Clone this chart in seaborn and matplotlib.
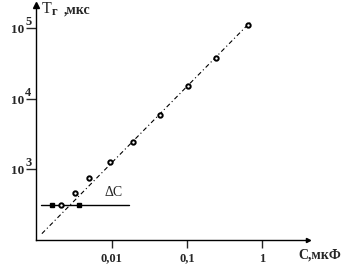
import numpy as np
import pandas as pd
import matplotlib
matplotlib.use("Agg")
from matplotlib import pyplot as plt
from matplotlib import ticker
import seaborn as sns

# measured points: capacitance (uF) vs generation period (us)
cap_uf = [0.0021, 0.0032, 0.0049, 0.0094, 0.019, 0.044, 0.103, 0.245, 0.65]
period_us = [318, 471, 745, 1255, 2420, 5840, 15000, 37400, 110000]

# dash-dot fit line end points
fit_cap = [0.00117, 0.69]
fit_period = [123, 121000]

# delta C bar
dc_cap = [0.00113, 0.0169]
dc_period = [318, 318]
dc_marks = [0.00158, 0.00363]

x_ticks = [0.01, 0.1, 1]
x_labels = ["0,01", "0,1", "1"]
y_ticks = [1e3, 1e4, 1e5]
y_labels = ["3", "4", "5"]

sns.set_style("white")
plt.rcParams["font.family"] = ["Liberation Serif", "DejaVu Serif"]

W, H = 355, 276
fig = plt.figure(figsize=(W / 100, H / 100), dpi=100)
ax = fig.add_axes([36 / W, 1 - 240 / H, (308 - 36) / W, (240 - 5) / H])

pts = pd.DataFrame({"C": cap_uf, "T": period_us})
fit = pd.DataFrame({"C": fit_cap, "T": fit_period})
dc = pd.DataFrame({"C": dc_cap, "T": dc_period})

ax.set_xscale("log")
ax.set_yscale("log")

sns.lineplot(data=fit, x="C", y="T", ax=ax, color="black", lw=0.8,
             linestyle=(0, (4, 2.5, 1, 2.5)))
sns.lineplot(data=dc, x="C", y="T", ax=ax, color="black", lw=1.0)
ax.plot(dc_marks, [dc_period[0]] * len(dc_marks), ls="none", marker="s",
        ms=2.2, color="black")
sns.scatterplot(data=pts, x="C", y="T", ax=ax, marker="o", s=10,
                facecolor="white", edgecolor="black", linewidth=1.4, zorder=5)

ax.set_xlim(10 ** -3.01, 10 ** 0.61)
ax.set_ylim(10 ** 2.0, 10 ** 5.33)

for s in ["top", "right"]:
    ax.spines[s].set_visible(False)
for s in ["left", "bottom"]:
    ax.spines[s].set_linewidth(1.0)
    ax.spines[s].set_color("black")

ax.xaxis.set_major_locator(ticker.FixedLocator(x_ticks))
ax.xaxis.set_major_formatter(ticker.FixedFormatter(x_labels))
ax.xaxis.set_minor_locator(ticker.NullLocator())
ax.yaxis.set_major_locator(ticker.FixedLocator(y_ticks))
ax.yaxis.set_major_formatter(ticker.NullFormatter())
ax.yaxis.set_minor_locator(ticker.NullLocator())
ax.tick_params(axis="x", direction="out", length=6, width=1, labelsize=9,
               pad=3, bottom=True)
for lab in ax.get_xticklabels():
    lab.set_fontweight("bold")
ax.tick_params(axis="y", direction="out", length=7, width=1, left=True)
ax.set_xlabel("")
ax.set_ylabel("")

# y tick labels drawn as "10" with raised exponent
for yv, ex in zip(y_ticks, y_labels):
    ax.annotate("10", xy=(0, yv), xycoords=("axes fraction", "data"),
                xytext=(-12, -2), textcoords="offset pixels",
                ha="right", va="center", fontsize=9.5, fontweight="bold")
    ax.annotate(ex, xy=(0, yv), xycoords=("axes fraction", "data"),
                xytext=(-11, 6), textcoords="offset pixels",
                ha="left", va="center", fontsize=9, fontweight="bold")

# axis arrows
ax.plot([0], [1], marker="^", ms=4, color="black", transform=ax.transAxes,
        clip_on=False)
ax.plot([1], [0], marker=">", ms=3, color="black", transform=ax.transAxes,
        clip_on=False)

# labels
fig.text(42 / W, 1 - 9 / H, "T", fontsize=11.5, ha="left", va="center")
fig.text(52 / W, 1 - 12 / H, "г", fontsize=9, ha="left", va="center",
         fontweight="bold")
fig.text(64 / W, 1 - 10 / H, ",мкс", fontsize=10, ha="left", va="center",
         fontweight="bold")
fig.text(298 / W, 1 - 255 / H, "C,мкФ", fontsize=10, ha="left", va="center",
         fontweight="bold")
ax.text(10 ** -2.1, 10 ** 2.68, "ΔC", fontsize=10, ha="left", va="center",
        family=["Liberation Serif", "DejaVu Serif"])

fig.savefig("out.png", dpi=100)
